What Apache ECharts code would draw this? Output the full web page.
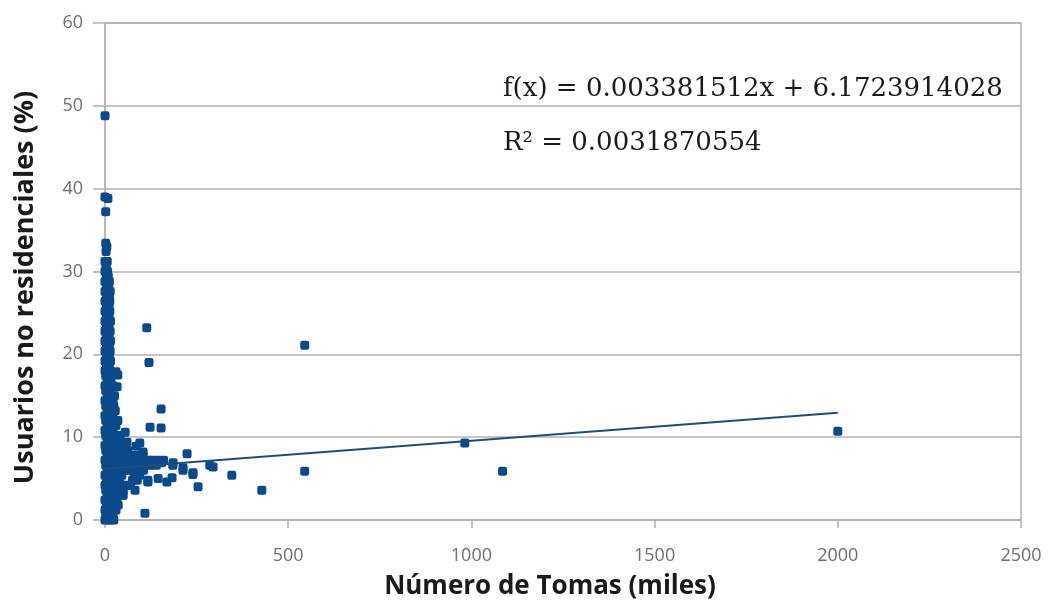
<!DOCTYPE html>
<html>
<head>
<meta charset="utf-8">
<script src="https://cdn.jsdelivr.net/npm/echarts@6/dist/echarts.min.js"></script>
<style>
  html, body { margin: 0; padding: 0; background: #ffffff; }
  #chart { width: 1048px; height: 601px; }
</style>
</head>
<body>
<div id="chart"></div>
<script>
// Axis settings
const X_MIN = 0, X_MAX = 2500, X_STEP = 500;
const Y_MIN = 0, Y_MAX = 60, Y_STEP = 10;
const X_TITLE = 'Número de Tomas (miles)';
const Y_TITLE = 'Usuarios no residenciales (%)';

// Linear fit reported on the chart
const SLOPE = 0.003381512;
const INTERCEPT = 6.1723914028;
const R_SQUARED = '0.0031870554';
const FIT_X_RANGE = [0, 2000];

// Dense group of small municipalities: each row is [usuarios %, [tomas (miles) ...]]
const clusterRows = [
  [0.0, [0, 8, 16, 24]],
  [0.6, [2, 12, 22]],
  [1.2, [0, 8, 18, 30]],
  [1.8, [4, 14, 26, 36]],
  [2.4, [0, 10, 20, 32]],
  [3.0, [6, 16, 28, 40, 49]],
  [3.6, [2, 12, 24, 36, 50]],
  [4.2, [0, 8, 20, 32, 44, 58, 70]],
  [4.8, [4, 16, 28, 40, 75, 88]],
  [5.4, [0, 10, 22, 34, 46, 80, 95]],
  [6.0, [6, 18, 30, 42, 54, 66, 78, 92, 105]],
  [6.6, [2, 14, 26, 38, 50, 62, 74, 86, 98, 110, 125, 140]],
  [7.2, [0, 10, 22, 34, 46, 58, 70, 82, 94, 106, 118, 130, 145, 160]],
  [7.8, [6, 18, 30, 42, 54, 66, 78, 92, 104]],
  [8.4, [2, 14, 26, 38, 50, 62]],
  [9.0, [0, 10, 22, 34, 46]],
  [9.6, [6, 18, 30, 42]],
  [10.2, [2, 14, 26, 38]],
  [10.8, [0, 10, 22]],
  [11.4, [6, 18, 30]],
  [12.0, [2, 14, 26, 35]],
  [12.6, [0, 10, 22]],
  [13.2, [6, 18, 28]],
  [13.8, [2, 14, 24]],
  [14.4, [0, 10, 22]],
  [15.0, [6, 18, 26]],
  [15.6, [2, 14]],
  [16.2, [0, 10, 22]],
  [16.8, [6, 16]],
  [17.4, [2, 12]],
  [18.0, [0, 8, 14]],
  [18.6, [4, 12]],
  [19.2, [0, 8, 15]],
  [19.8, [4, 12]],
  [20.4, [0, 8, 14]],
  [21.0, [4, 12]],
  [21.6, [0, 8, 15]],
  [22.2, [4, 11]],
  [22.8, [0, 8, 14]],
  [23.4, [4, 11]],
  [24.0, [0, 8, 15]],
  [24.6, [4, 11]],
  [25.2, [0, 8, 13]],
  [25.8, [4, 11]],
  [26.4, [0, 8, 13]],
  [27.0, [4, 12]],
  [27.6, [0, 8, 14]],
  [28.2, [4, 10]],
  [28.8, [0, 8, 12]],
  [29.4, [4, 9]],
  [30.0, [0, 7]],
  [30.6, [3]],
  [31.2, [0, 6]],
  [32.4, [3]],
  [33.0, [5]],
  [33.4, [2]]
];

// Scattered municipalities outside the dense group: [tomas (miles), usuarios %]
const spreadPoints = [
  [30, 17.9], [35, 17.5], [33, 16.1], [55, 10.6], [60, 9.4], [95, 9.3],
  [104, 8.2], [85, 8.9], [153, 13.4], [123, 11.2], [153, 11.1], [114, 23.2],
  [120, 19.0], [224, 8.0], [155, 6.9], [186, 6.9], [185, 6.6], [213, 6.3],
  [213, 6.0], [240, 5.7], [286, 6.6], [295, 6.4], [346, 5.4], [240, 5.5],
  [117, 4.8], [117, 4.6], [145, 5.0], [169, 4.6], [183, 5.1], [254, 4.0],
  [82, 3.6], [49, 3.0], [109, 0.8], [428, 3.6]
];

// Large cities
const largePoints = [
  [0, 48.8], [0, 39.0], [8, 38.8], [2, 37.2],
  [545, 21.1], [545, 5.9], [982, 9.3], [1085, 5.9], [2000, 10.7]
];

const POINT_COLOR = '#0b4a8a';

const scatterData = [];
clusterRows.forEach(([y, xs]) => xs.forEach(x => scatterData.push([x, y])));
spreadPoints.forEach(p => scatterData.push(p));
largePoints.forEach(p => scatterData.push(p));

const fitLine = FIT_X_RANGE.map(x => [x, INTERCEPT + SLOPE * x]);

const chart = echarts.init(document.getElementById('chart'), null, { renderer: 'canvas' });

const tickLabelStyle = { color: '#6e6e6e', fontFamily: 'Open Sans', fontSize: 18 };
const axisLineStyle = { color: '#b3b3b3', width: 1.5 };
const titleFont = { color: '#1a1a1a', fontFamily: 'Open Sans', fontWeight: 'bold' };

chart.setOption({
  animation: false,
  backgroundColor: '#ffffff',
  grid: {
    left: 105, right: 27, top: 23, bottom: 81,
    outerBoundsMode: 'none',
    containLabel: false,
    show: true, borderColor: '#b3b3b3', borderWidth: 1.5
  },
  xAxis: {
    type: 'value',
    min: X_MIN, max: X_MAX, interval: X_STEP,
    name: X_TITLE,
    nameLocation: 'middle',
    nameGap: 54,
    nameTextStyle: Object.assign({ fontSize: 26, padding: [0, 26, 0, 0] }, titleFont),
    axisLine: { show: true, lineStyle: axisLineStyle },
    axisTick: { show: true, inside: false, length: 8, lineStyle: axisLineStyle },
    axisLabel: Object.assign({ margin: 27, formatter: v => String(v) }, tickLabelStyle),
    splitLine: { show: false }
  },
  yAxis: {
    type: 'value',
    min: Y_MIN, max: Y_MAX, interval: Y_STEP,
    name: Y_TITLE,
    nameLocation: 'middle',
    nameGap: 66,
    nameRotate: 90,
    nameTextStyle: Object.assign({ fontSize: 27, padding: [0, 32, 0, 0] }, titleFont),
    axisLine: { show: true, lineStyle: axisLineStyle },
    axisTick: { show: true, inside: false, length: 12, lineStyle: axisLineStyle },
    axisLabel: Object.assign({ margin: 22 }, tickLabelStyle),
    splitLine: { show: true, lineStyle: axisLineStyle }
  },
  series: [
    {
      type: 'scatter',
      data: scatterData,
      symbol: 'roundRect',
      symbolSize: 9,
      itemStyle: { color: POINT_COLOR, opacity: 1 },
      z: 3
    },
    {
      type: 'line',
      data: fitLine,
      showSymbol: false,
      symbol: 'none',
      lineStyle: { color: '#1f4e79', width: 2 },
      z: 4
    }
  ],
  graphic: [
    {
      type: 'text',
      left: 503, top: 76,
      style: {
        text: 'f(x) = ' + SLOPE + 'x + ' + INTERCEPT,
        font: '26px "DejaVu Serif"',
        fill: '#1a1a1a'
      }
    },
    {
      type: 'text',
      left: 503, top: 130,
      style: {
        text: 'R² = ' + R_SQUARED,
        font: '26px "DejaVu Serif"',
        fill: '#1a1a1a'
      }
    }
  ]
});
</script>
</body>
</html>
